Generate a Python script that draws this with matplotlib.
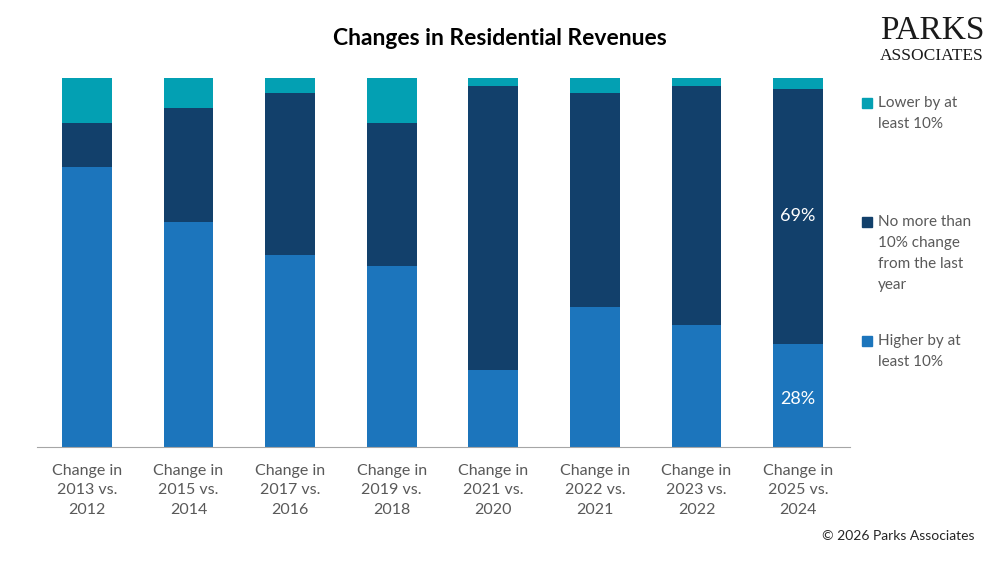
#!/usr/bin/env python3

import matplotlib
matplotlib.use('Agg')
import matplotlib.pyplot as plt
import numpy as np

################################################################################

categories = ['Change in\n2013 vs.\n2012', 'Change in\n2015 vs.\n2014', 'Change in\n2017 vs.\n2016',
	'Change in\n2019 vs.\n2018', 'Change in\n2021 vs.\n2020', 'Change in\n2022 vs.\n2021',
	'Change in\n2023 vs.\n2022', 'Change in\n2025 vs.\n2024']
higher = [76, 61, 52, 49, 21, 38, 33, 28]
no_change = [12, 31, 44, 39, 77, 58, 65, 69]
lower = [12, 8, 4, 12, 2, 4, 2, 3]

series_names = ['Lower by at\nleast 10%', 'No more than\n10% change\nfrom the last\nyear', 'Higher by at\nleast 10%']

col_higher = '#1C75BC'
col_nochange = '#12406B'
col_lower = '#03A0B3'
grey = '#595959'

################################################################################

plt.rcParams['font.family'] = ['Lato', 'DejaVu Sans']

fig = plt.figure(figsize = (10, 5.63), dpi = 100)
ax = fig.add_axes([0.037, 0.206, 0.813, 0.655])

x = np.arange(len(categories))
higher = np.array(higher)
no_change = np.array(no_change)
lower = np.array(lower)

ax.bar(x, higher, width = 0.49, color = col_higher)
ax.bar(x, no_change, width = 0.49, bottom = higher, color = col_nochange)
ax.bar(x, lower, width = 0.49, bottom = higher + no_change, color = col_lower)

# labels on the last bar only
last = len(categories) - 1
ax.text(last, higher[last] / 2 - 1, '{}%'.format(higher[last]), color = 'white',
	ha = 'center', va = 'center', fontsize = 13)
ax.text(last, higher[last] + no_change[last] / 2 + 0.2, '{}%'.format(no_change[last]), color = 'white',
	ha = 'center', va = 'center', fontsize = 13)

# beautification
ax.set_xlim(-0.49, 7.51)
ax.set_ylim(0, 100)
for side in ['top', 'right', 'left']:
	ax.spines[side].set_visible(False)
ax.spines['bottom'].set_color('#A6A6A6')
ax.set_yticks([])
ax.set_xticks(x)
ax.set_xticklabels(categories, fontsize = 11.5, color = grey, linespacing = 1.5)
ax.tick_params(axis = 'x', length = 0, pad = 12)

fig.text(0.5, 0.932, 'Changes in Residential Revenues', ha = 'center', va = 'center',
	fontsize = 16.5, fontweight = 'bold', color = 'black')

# legend drawn by hand
legend_items = [(col_lower, 0.817), (col_nochange, 0.606), (col_higher, 0.394)]
for (colour, ypos), name in zip(legend_items, series_names):
	fig.patches.append(matplotlib.patches.Rectangle((0.862, ypos - 0.009), 0.01, 0.018,
		transform = fig.transFigure, color = colour))
	fig.text(0.878, ypos + 0.012, name, ha = 'left', va = 'top', fontsize = 11,
		color = grey, linespacing = 1.62)

# logo and copyright
fig.text(0.932, 0.945, 'PARKS', ha = 'center', va = 'center', fontsize = 24,
	family = 'Liberation Serif', color = '#1a1a1a')
fig.text(0.932, 0.9, 'ASSOCIATES', ha = 'center', va = 'center', fontsize = 12.5,
	family = 'Liberation Serif', color = '#1a1a1a')
fig.text(0.975, 0.048, '\u00a9 2026 Parks Associates', ha = 'right', va = 'center',
	fontsize = 10, color = '#262626')

fig.savefig('out.png', dpi = 100)
